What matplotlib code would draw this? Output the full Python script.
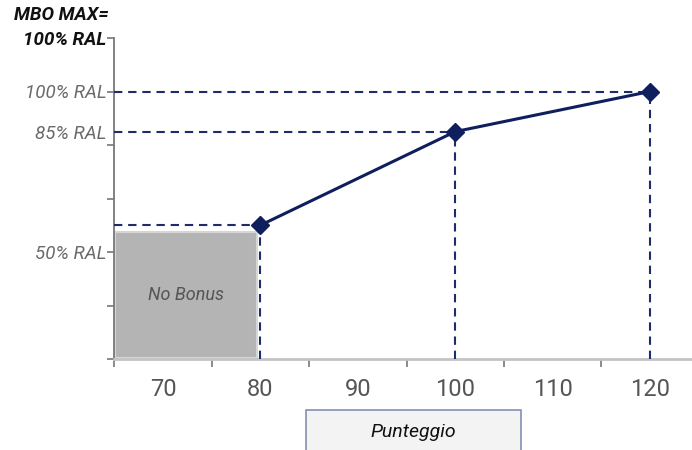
import matplotlib
matplotlib.use("Agg")
import matplotlib.pyplot as plt
from matplotlib.patches import Rectangle
from matplotlib.ticker import FixedLocator, FixedFormatter

plt.rcParams['font.family'] = ['Roboto', 'DejaVu Sans']

# Data
scores = [80, 100, 120]
payout = [50, 85, 100]
x_ticks = [70, 80, 90, 100, 110, 120]
x_labels = ['70', '80', '90', '100', '110', '120']
x_bounds = [65, 75, 85, 95, 105, 115, 125]
y_ticks = [0, 20, 40, 60, 80, 100, 120]
y_labels = ['', '', '50% RAL', '', '', '100% RAL', '100% RAL']
y_top_title = 'MBO MAX='
y_extra = [85]
y_extra_labels = ['85% RAL']
no_bonus_x = [65, 79.6]
no_bonus_top = 47.5

navy = '#0f1f5e'
dash_c = '#1d2c6c'

fig = plt.figure(figsize=(6.92, 4.5), dpi=100)
ax = fig.add_axes([114.3/692, (450-359)/450, 584.4/692, 321/450])
ax.set_xlim(65, 125)
ax.set_ylim(0, 120)

# No bonus box
ax.add_patch(Rectangle((no_bonus_x[0] + 0.1, 0.3), no_bonus_x[1] - no_bonus_x[0] - 0.1, no_bonus_top - 0.3,
                       facecolor='#b4b4b4', edgecolor='#d6d6d6', lw=1.5, zorder=1))
ax.text((no_bonus_x[0] + no_bonus_x[1]) / 2 + 0.1, no_bonus_top / 2, 'No Bonus', ha='center', va='center',
        fontsize=13, style='italic', color='#555555', zorder=2)

# Dashed guides
for s, p in zip(scores, payout):
    ax.plot([65, s], [p, p], ls=(0, (4, 2.8)), color=dash_c, lw=1.5, zorder=3)
    ax.plot([s, s], [0, p], ls=(0, (4, 2.8)), color=dash_c, lw=1.5, zorder=3)

ax.plot(scores, payout, color=navy, lw=2.2, marker='D', markersize=9,
        markerfacecolor=navy, markeredgecolor=navy, zorder=4, clip_on=False)

# Spines
for s in ['top', 'right']:
    ax.spines[s].set_visible(False)
ax.spines['left'].set_color('#777777')
ax.spines['left'].set_linewidth(1.3)
ax.spines['bottom'].set_color('#c4c4c4')
ax.spines['bottom'].set_linewidth(2)

# X ticks
ax.set_xticks(x_ticks)
ax.set_xticklabels(x_labels)
ax.xaxis.set_minor_locator(FixedLocator(x_bounds))
ax.tick_params(axis='x', which='major', length=0, pad=14, labelsize=17, labelcolor='#555555')
ax.tick_params(axis='x', which='minor', length=6, width=1.2, color='#777777', direction='out')

# Y ticks
ax.set_yticks(y_ticks)
ax.set_yticklabels(y_labels)
ax.yaxis.set_minor_locator(FixedLocator(y_extra))
ax.yaxis.set_minor_formatter(FixedFormatter(y_extra_labels))
ax.tick_params(axis='y', which='major', length=5, width=1.2, color='#777777', pad=0.5,
               labelsize=13.5, labelcolor='#6a6a6a')
ax.tick_params(axis='y', which='minor', length=0, pad=6, labelsize=13.5, labelcolor='#6a6a6a')
for lab in ax.get_yticklabels() + ax.get_yticklabels(minor=True):
    lab.set_style('italic')
top = ax.get_yticklabels()[-1]
top.set_color('#111111')
top.set_weight('bold')
top.set_fontsize(13.5)

ax.annotate(y_top_title, xy=(0, 120), xycoords=('axes fraction', 'data'),
            xytext=(-6, 23), textcoords='offset pixels', ha='right', va='center',
            fontsize=13.5, style='italic', weight='bold', color='#111111', annotation_clip=False)

# Punteggio box
fig.patches.append(Rectangle((306/692, -0.02), 215/692, (450-410)/450 + 0.02, transform=fig.transFigure,
                             facecolor='#f3f3f3', edgecolor='#8190b2', lw=1.2, figure=fig))
fig.text(413/692, (450-432)/450, 'Punteggio', ha='center', va='center', fontsize=14,
         style='italic', color='#111111')

fig.savefig('out.png', dpi=100)
